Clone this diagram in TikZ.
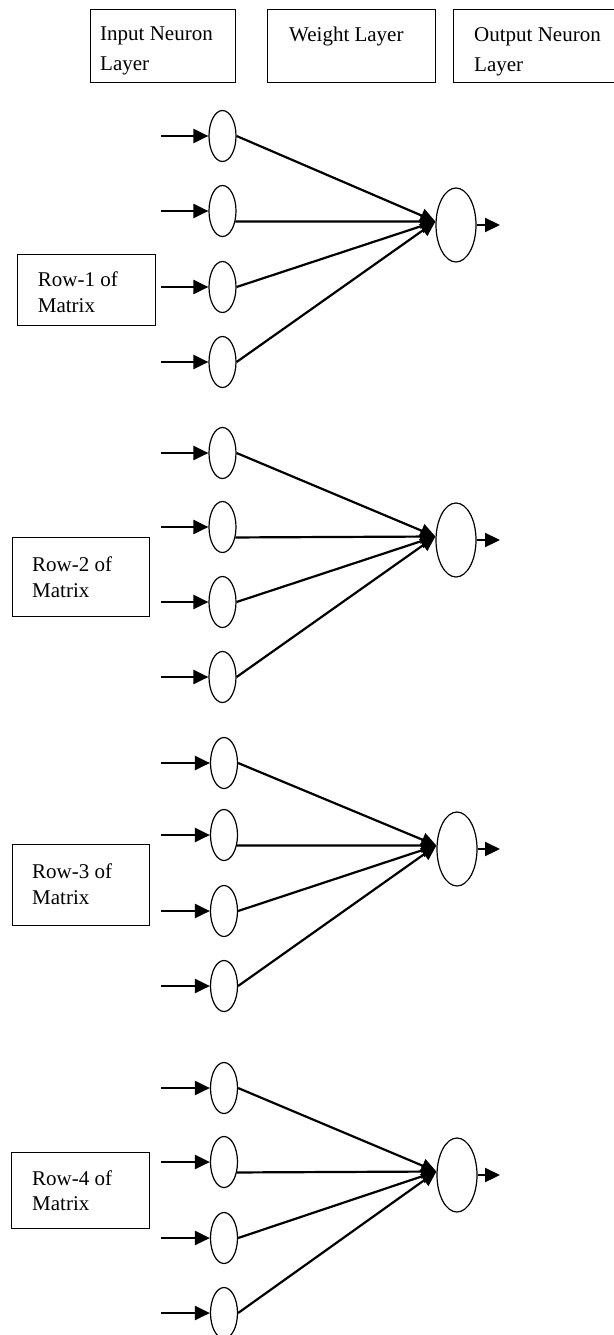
\documentclass[tikz,border=0pt]{standalone}
\usepackage{fontspec}
\setmainfont{Liberation Serif}
\usetikzlibrary{arrows.meta,shapes.geometric}
\begin{document}
\begin{tikzpicture}[x=1pt,y=-1pt,
  frame/.style={draw, line width=1.2pt, rectangle, inner sep=0pt, anchor=north west},
  txt/.style={anchor=north west, inner sep=0pt, align=left, font=\fontsize{21}{25.5}\selectfont},
  toptxt/.style={txt, font=\fontsize{21}{30}\selectfont},
  inn/.style={draw, ellipse, line width=1.2pt, minimum width=27pt, minimum height=51pt, inner sep=0pt},
  outn/.style={draw, ellipse, line width=1.2pt, minimum width=40pt, minimum height=74pt, inner sep=0pt},
  arr/.style={line width=2.2pt, -{Triangle[length=15pt,width=14pt]}},
]
\useasboundingbox (0,0) rectangle (613,1335);
% top boxes
\node[frame, minimum width=145pt, minimum height=73pt] (b1) at (90,9) {};
\node[frame, minimum width=168pt, minimum height=73pt] (b2) at (267,9) {};
\node[frame, minimum width=200pt, minimum height=73pt] (b3) at (453,9) {};
\node[toptxt] (t1) at ([shift={(10,18)}]b1.north west) {Input Neuron\\Layer};
\node[toptxt] (t2) at ([shift={(22,18)}]b2.north west) {Weight Layer};
\node[toptxt] (t3) at ([shift={(21,18)}]b3.north west) {Output Neuron\\Layer};
% row boxes
\node[frame, minimum width=138pt, minimum height=71pt] (r1) at (17,254) {};
\node[frame, minimum width=137pt, minimum height=79pt] (r2) at (12,537) {};
\node[frame, minimum width=137pt, minimum height=81pt] (r3) at (12,844) {};
\node[frame, minimum width=138pt, minimum height=76pt] (r4) at (11,1152) {};
\node[txt] (rt1) at ([shift={(20.7,18)}]r1.north west) {Row-1 of\\Matrix};
\node[txt] (rt2) at ([shift={(20,20)}]r2.north west) {Row-2 of\\Matrix};
\node[txt] (rt3) at ([shift={(20,20)}]r3.north west) {Row-3 of\\Matrix};
\node[txt] (rt4) at ([shift={(21,18)}]r4.north west) {Row-4 of\\Matrix};
% networks
\foreach \g/\a/\b/\c/\d/\o/\ox/\ix in {1/136/211/287/362/225/456/222.5, 2/453/527/602/677/540/456/222.5, 3/763/835/911/986/849/457/224, 4/1088/1162/1238/1313/1175/457/224} {
  \node[outn] (o\g) at (\ox,\o) {};
  \foreach \k/\y in {1/\a,2/\b,3/\c,4/\d} {
    \node[inn] (i\g\k) at (\ix,\y) {};
    \coordinate (s\g\k) at (161,\y);
    \draw[arr] (s\g\k) -- (i\g\k);
  }
  \coordinate (c\g) at ([shift={(0,-3.5)}]o\g.west);
  \draw[arr] (i\g1.east) -- (c\g);
  \draw[arr] (i\g2.-39) -- (c\g);
  \draw[arr] (i\g3.east) -- (c\g);
  \draw[arr] (i\g4.east) -- (c\g);
  \coordinate (e\g) at (500,\o);
  \draw[arr] (o\g) -- (e\g);
}
\end{tikzpicture}
\end{document}
